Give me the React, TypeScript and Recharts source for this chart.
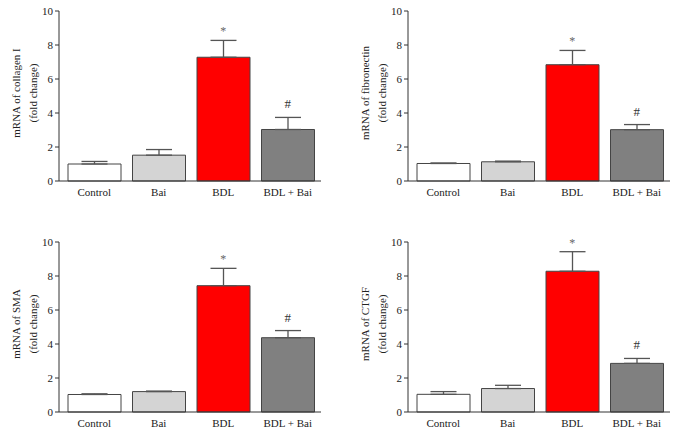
import React from "react";
import {
  ComposedChart,
  Bar,
  Cell,
  ErrorBar,
  Scatter,
  XAxis,
  YAxis,
} from "recharts";

const categories = ["Control", "Bai", "BDL", "BDL + Bai"];
const marks = ["", "", "*", "#"];
const colors = ["#ffffff", "#d4d4d4", "#ff0000", "#808080"];
const yTicks = [0, 2, 4, 6, 8, 10];

const collagenMean = [1.0, 1.52, 7.28, 3.03];
const collagenErr = [0.15, 0.33, 0.99, 0.71];

const fibronectinMean = [1.03, 1.13, 6.84, 3.02];
const fibronectinErr = [0.03, 0.04, 0.84, 0.3];

const smaMean = [1.03, 1.2, 7.43, 4.37];
const smaErr = [0.04, 0.03, 1.02, 0.42];

const ctgfMean = [1.04, 1.38, 8.28, 2.86];
const ctgfErr = [0.16, 0.19, 1.15, 0.29];

const FONT = "'Liberation Serif', 'Times New Roman', serif";
const AXIS = "#333";

const build = (mean: number[], err: number[]) =>
  categories.map((name, i) => ({
    name,
    mean: mean[i],
    err: [0, err[i]],
    mark: marks[i],
    markTop: marks[i] ? mean[i] + err[i] : null,
  }));

// significance marks sit just above the error bar caps
const MarkShape = (props: any) => {
  const { cx, cy, payload } = props;
  if (!payload || !payload.mark || cx == null || cy == null) return <g />;
  const star = payload.mark === "*";
  return (
    <text
      x={cx}
      y={cy + (star ? -5 : -9)}
      textAnchor="middle"
      fontSize={star ? 12 : 13}
      fill={star ? "#666" : "#333"}
      fontFamily={FONT}
    >
      {payload.mark}
    </text>
  );
};

interface PanelProps {
  left: number;
  top: number;
  width: number;
  axisWidth: number;
  rightMargin: number;
  label: string;
  mean: number[];
  err: number[];
}

function Panel({ left, top, width, axisWidth, rightMargin, label, mean, err }: PanelProps) {
  const data = build(mean, err);
  const yLabel = (p: any) => {
    const vb = p.viewBox;
    const ax = vb.x + vb.width;
    const cy = vb.y + vb.height / 2 - 3;
    return (
      <g fontFamily={FONT} fontSize={11} fill="#222">
        <text transform={`translate(${ax - 43},${cy}) rotate(-90)`} textAnchor="middle" dominantBaseline="central">
          {label}
        </text>
        <text transform={`translate(${ax - 26},${cy}) rotate(-90)`} textAnchor="middle" dominantBaseline="central">
          (fold change)
        </text>
      </g>
    );
  };
  return (
    <div style={{ position: "absolute", left, top }}>
      <ComposedChart
        width={width}
        height={215}
        data={data}
        margin={{ top: 11, right: rightMargin, bottom: 4, left: 0 }}
      >
        <XAxis
          dataKey="name"
          type="category"
          height={30}
          tickLine={false}
          tickSize={0}
          tickMargin={7}
          padding={{ left: 3, right: 1 }}
          axisLine={{ stroke: AXIS }}
          tick={{ fill: "#222", fontSize: 11, fontFamily: FONT }}
        />
        <YAxis
          type="number"
          domain={[0, 10]}
          ticks={yTicks}
          width={axisWidth}
          tickSize={4}
          tickMargin={2}
          axisLine={{ stroke: AXIS }}
          tickLine={{ stroke: AXIS }}
          tick={{ fill: "#222", fontSize: 11, fontFamily: FONT }}
          label={{ content: yLabel }}
        />
        <Bar dataKey="mean" barSize={53} stroke="#444" strokeWidth={1} isAnimationActive={false}>
          {data.map((d, i) => (
            <Cell key={d.name} fill={colors[i]} />
          ))}
          <ErrorBar dataKey="err" width={13} stroke="#555" strokeWidth={1.3} direction="y" isAnimationActive={false} />
        </Bar>
        <Scatter dataKey="markTop" shape={MarkShape} isAnimationActive={false} />
      </ComposedChart>
    </div>
  );
}

export default function App() {
  return (
    <div style={{ position: "fixed", left: 0, top: 0, width: 676, height: 433, background: "#fff" }}>
      <Panel left={0} top={0} width={340} axisWidth={59} rightMargin={19} label="mRNA of collagen I" mean={collagenMean} err={collagenErr} />
      <Panel left={340} top={0} width={336} axisWidth={68} rightMargin={6} label="mRNA of fibronectin" mean={fibronectinMean} err={fibronectinErr} />
      <Panel left={0} top={231} width={340} axisWidth={59} rightMargin={19} label="mRNA of SMA" mean={smaMean} err={smaErr} />
      <Panel left={340} top={231} width={336} axisWidth={68} rightMargin={6} label="mRNA of CTGF" mean={ctgfMean} err={ctgfErr} />
    </div>
  );
}
